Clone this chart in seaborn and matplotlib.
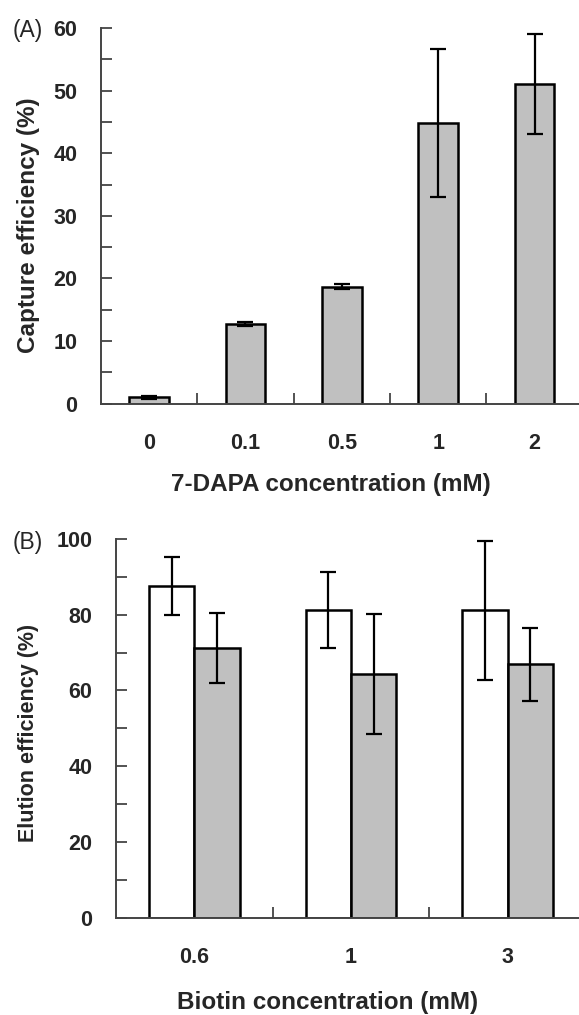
import numpy as np
import pandas as pd
import matplotlib
matplotlib.use('Agg')
import matplotlib.pyplot as plt
import seaborn as sns

# (A) capture efficiency vs 7-DAPA
dapa_conc = ['0', '0.1', '0.5', '1', '2']
capture_mean = [1.0, 12.7, 18.7, 44.8, 51.1]
capture_sd = [0.2, 0.3, 0.4, 11.8, 8.0]

# (B) elution efficiency vs biotin, two series (white / gray bars)
biotin_conc = ['0.6', '1', '3']
elution_white = [87.6, 81.2, 81.2]
elution_white_sd = [7.7, 10.0, 18.4]
elution_gray = [71.2, 64.4, 66.9]
elution_gray_sd = [9.2, 15.8, 9.7]

GRAY = '#c0c0c0'
AXCOL = '#444444'

sns.set_style('ticks')
plt.rcParams['font.family'] = ['Liberation Sans', 'DejaVu Sans']
plt.rcParams['font.weight'] = 'bold'
plt.rcParams['axes.labelweight'] = 'bold'

W, H = 579, 1015
fig = plt.figure(figsize=(W / 100, H / 100), dpi=100)


def style_axis(ax, ymax, major, minor, ncat):
    ax.set_ylim(0, ymax)
    ax.set_yticks(np.arange(0, ymax + 1, major))
    ax.set_yticks(np.arange(minor, ymax, major), minor=True)
    ax.tick_params(axis='y', which='both', direction='in', length=8, width=1.3,
                   color=AXCOL, pad=17, labelsize=15.5)
    ax.set_xticks(np.arange(ncat - 1) + 0.5, minor=True)
    ax.tick_params(axis='x', which='major', length=0, pad=21, labelsize=15.5)
    ax.tick_params(axis='x', which='minor', direction='in', length=8, width=1.3,
                   color=AXCOL)
    for s in ['top', 'right']:
        ax.spines[s].set_visible(False)
    for s in ['left', 'bottom']:
        ax.spines[s].set_color(AXCOL)
        ax.spines[s].set_linewidth(1.4)


# ---- panel A ----
axA = fig.add_axes([100.8 / W, 1 - 403.7 / H, 1 - 100.8 / W, (403.7 - 28) / H])
dfA = pd.DataFrame({'conc': dapa_conc, 'mean': capture_mean})
sns.barplot(data=dfA, x='conc', y='mean', color=GRAY, saturation=1, width=0.41,
            edgecolor='black', linewidth=1.8, errorbar=None, ax=axA)
xs = [p.get_x() + p.get_width() / 2 for p in axA.containers[0]]
axA.errorbar(xs, capture_mean, yerr=capture_sd, fmt='none', ecolor='black',
             elinewidth=1.6, capsize=6, capthick=1.6)
style_axis(axA, 60, 10, 5, len(dapa_conc))
axA.set_xlim(-0.5, 4.46)
axA.set_xlabel('7-DAPA concentration (mM)', fontsize=17.5)
axA.set_ylabel('Capture efficiency (%)', fontsize=17.5)
axA.xaxis.set_label_coords(0.481, -0.214)
axA.xaxis.label.set_va('center')
axA.yaxis.set_label_coords(-0.151, 0.474)
axA.yaxis.label.set_va('center')

# ---- panel B ----
axB = fig.add_axes([116 / W, 1 - 917.7 / H, 1 - 116 / W, (917.7 - 539) / H])
dfB = pd.DataFrame({
    'conc': biotin_conc * 2,
    'series': ['white'] * 3 + ['gray'] * 3,
    'mean': elution_white + elution_gray,
})
sns.barplot(data=dfB, x='conc', y='mean', hue='series',
            palette={'white': 'white', 'gray': GRAY}, saturation=1, width=0.58,
            edgecolor='black', linewidth=1.8, errorbar=None, legend=False, ax=axB)
for cont, means, sds in zip(axB.containers, [elution_white, elution_gray],
                            [elution_white_sd, elution_gray_sd]):
    xs = [p.get_x() + p.get_width() / 2 for p in cont]
    axB.errorbar(xs, means, yerr=sds, fmt='none', ecolor='black',
                 elinewidth=1.6, capsize=6, capthick=1.6)
style_axis(axB, 100, 20, 10, len(biotin_conc))
axB.set_xlim(-0.5, 2.456)
axB.set_xlabel('Biotin concentration (mM)', fontsize=17.5)
axB.set_ylabel('Elution efficiency (%)', fontsize=15.5)
axB.xaxis.set_label_coords(0.458, -0.225)
axB.xaxis.label.set_va('center')
axB.yaxis.set_label_coords(-0.190, 0.489)
axB.yaxis.label.set_va('center')

fig.text(13 / W, 1 - 30 / H, '(A)', fontsize=16.5, fontweight='normal', va='center')
fig.text(13 / W, 1 - 543 / H, '(B)', fontsize=16.5, fontweight='normal', va='center')

fig.savefig('out.png', dpi=100)
